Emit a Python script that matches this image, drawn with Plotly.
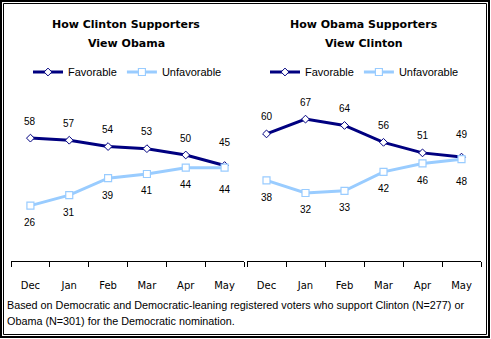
import plotly.graph_objects as go

months = ["Dec", "Jan", "Feb", "Mar", "Apr", "May"]
clinton_fav = [58, 57, 54, 53, 50, 45]
clinton_unfav = [26, 31, 39, 41, 44, 44]
obama_fav = [60, 67, 64, 56, 51, 49]
obama_unfav = [38, 32, 33, 42, 46, 48]
titles = [("How Clinton Supporters", "View Obama"), ("How Obama Supporters", "View Clinton")]
footnote = ["Based on Democratic and Democratic-leaning registered voters who support Clinton (N=277) or",
            "Obama (N=301) for the Democratic nomination."]

W, H = 491, 339
NAVY = "#000080"
LIGHT = "#99CCFF"


def px(x):
    return x / W


def py(y):
    return 1 - y / H


fig = go.Figure()

panels = [
    ("x", "y", "legend", clinton_fav, clinton_unfav),
    ("x2", "y2", "legend2", obama_fav, obama_unfav),
]
for xa, ya, lg, fav, unf in panels:
    fig.add_trace(go.Scatter(
        x=months, y=fav, xaxis=xa, yaxis=ya, legend=lg, name="Favorable",
        mode="lines+markers", line=dict(color=NAVY, width=3),
        marker=dict(symbol="diamond", size=6, color="white", line=dict(color=NAVY, width=1)),
    ))
    fig.add_trace(go.Scatter(
        x=months, y=unf, xaxis=xa, yaxis=ya, legend=lg, name="Unfavorable",
        mode="lines+markers", line=dict(color=LIGHT, width=3),
        marker=dict(symbol="square", size=7, color="white", line=dict(color=LIGHT, width=1.2)),
    ))

annotations = []
for xa, ya, lg, fav, unf in panels:
    n = len(months)
    for i, (m, v) in enumerate(zip(months, fav)):
        annotations.append(dict(x=m, y=v, xref=xa, yref=ya, text=str(v), showarrow=False,
                                yshift=23 if i == n - 1 else 17,
                                font=dict(family="Liberation Sans, Arial", size=10, color="black")))
    for i, (m, v) in enumerate(zip(months, unf)):
        annotations.append(dict(x=m, y=v, xref=xa, yref=ya, text=str(v), showarrow=False,
                                yshift=-22 if i == n - 1 else -17,
                                font=dict(family="Liberation Sans, Arial", size=10, color="black")))

title_font = dict(family="DejaVu Sans", size=11, color="black")
for cx, (l1, l2) in zip([126, 364], titles):
    annotations.append(dict(x=px(cx), y=py(24), xref="paper", yref="paper", text="<b>%s</b>" % l1,
                            showarrow=False, xanchor="center", yanchor="middle", font=title_font))
    annotations.append(dict(x=px(cx), y=py(43), xref="paper", yref="paper", text="<b>%s</b>" % l2,
                            showarrow=False, xanchor="center", yanchor="middle", font=title_font))

foot_font = dict(family="Liberation Sans, Arial", size=10.8, color="black")
for yy, line in zip([305, 321], footnote):
    annotations.append(dict(x=px(5), y=py(yy), xref="paper", yref="paper", text=line,
                            showarrow=False, xanchor="left", yanchor="middle", font=foot_font))

axis_common = dict(
    showline=True, linecolor="black", linewidth=1, ticks="outside", ticklen=5, tickcolor="black",
    tickwidth=1, tickson="boundaries", showgrid=False, zeroline=False, fixedrange=True,
    tickfont=dict(family="DejaVu Sans", size=10, color="black"), ticklabelstandoff=15,
    range=[-0.5, 5.5],
)
ydom = [py(260.5), py(49.5)]
yax = dict(range=[0, 100], visible=False, domain=ydom, fixedrange=True)

legend_common = dict(orientation="h", yanchor="middle", xanchor="left", bgcolor="rgba(0,0,0,0)",
                     font=dict(family="Liberation Sans, Arial", size=11, color="black"),
                     itemclick=False, itemdoubleclick=False, tracegroupgap=0)

fig.update_layout(
    width=W, height=H, margin=dict(l=0, r=0, t=0, b=0, pad=0),
    paper_bgcolor="white", plot_bgcolor="white",
    xaxis=dict(domain=[px(11), px(244)], anchor="y", **axis_common),
    xaxis2=dict(domain=[px(247), px(481)], anchor="y2", **axis_common),
    yaxis=dict(anchor="x", **yax),
    yaxis2=dict(anchor="x2", **yax),
    legend=dict(x=px(28), y=py(72), **legend_common),
    legend2=dict(x=px(265), y=py(72), **legend_common),
    annotations=annotations,
    shapes=[
        dict(type="rect", xref="paper", yref="paper", x0=px(1), x1=px(489), y0=py(1), y1=py(337),
             line=dict(color="black", width=2)),
        dict(type="rect", xref="paper", yref="paper", x0=px(3.5), x1=px(486.5), y0=py(3.5), y1=py(334.5),
             line=dict(color="black", width=1)),
    ],
)

fig.write_html("out.html")
